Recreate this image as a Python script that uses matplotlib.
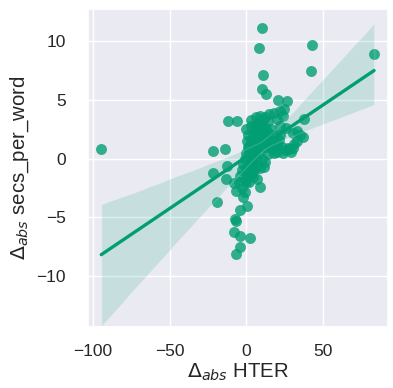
import numpy as np
import pandas as pd
import matplotlib
matplotlib.use("Agg")
import matplotlib.pyplot as plt
import seaborn as sns

# Delta_abs HTER (x) and Delta_abs secs_per_word (y)
hter = [
    -94.4, 83.0, 42.7, 42.3, 10.1, 7.9, 10.5, 10.1, 12.7, 20.8, 26.2, 24.5,
    37.3, 32.6, 36.5, -11.8, -6.0, -22.0, -14.2, -22.0, -12.4, -13.1, -18.9,
    -8.2, -7.1, -2.1, 0.4, -3.9, -7.7, -6.6, -8.2, -4.3, 2.6, -3.9, -6.6,
    6.9, 9.0, 11.6, 3.7,
    3, 6, 9, 12, 15, 18, 22, 14, 20, 24,
    0, 1, 0.5, 1, 0, -1, -2, -3, -4, -5, -3, -1, 0,
    3, 5, 4, 6, 3, 5, 7, 2, 4, 6, 3, 1, 2, 8, 10, 9, 11, 8, 12, 13, 15, 14,
    17, 19, 16, 18, 21, 23, 25, 27, 29, 31, 33, 35, 30, 26, 22, 10, 12, 7,
    5, 9, 4, 2,
    18, 20, 24, 28, 30,
    2, 4, 6, 8, 10, 7, 9, 11, 13, 5, 3, 1, 6, 8, 12, 16, 20, 14, 18, 22,
    -1, 0, 2, 4, 11,
]
secs = [
    0.85, 8.86, 9.65, 7.45, 11.1, 9.4, 7.1, 5.9, 5.5, 5.0, 4.9, 4.2,
    3.4, 2.35, 1.8, 3.2, 3.2, 0.65, 0.85, -1.2, -0.6, -1.75, -3.7,
    -2.1, -2.75, -3.25, -4.0, -4.4, -5.15, -5.3, -6.2, -6.55, -6.7, -7.5, -8.1,
    -1.75, -2.4, -0.7, -1.2,
    3.3, 3.5, 3.6, 3.5, 3.8, 3.9, 4.0, 3.2, 3.4, 3.6,
    2.5, 2.0, 1.5, 1.0, 0.5, 0.0, -0.5, -1.0, -1.5, -2.0, -2.5, -2.8, -2.0,
    2.8, 2.5, 2.0, 1.8, 1.5, 1.2, 1.0, 0.5, 0.3, 0.0, -0.3, -0.8, -1.2, 0.5,
    1.2, 2.2, 2.8, 3.0, 2.0, 1.5, 1.0, 0.4,
    0.8, 1.2, 2.5, 2.0, 1.6, 1.0, 0.7, 0.9, 0.6, 1.2, 1.5, 2.0, 2.2, 2.6, 2.8,
    0.0, -0.3, -0.6, -1.0, -0.8, -1.6, -2.0,
    0.5, 0.6, 0.5, 0.8, 0.9,
    1.0, 1.6, 2.3, 2.6, 2.4, 0.8, 1.6, 1.9, 2.5, 0.6, 0.0, -1.5, 2.9, 1.4,
    1.0, 1.6, 1.2, 2.2, 1.4, 2.0,
    -1.8, -1.0, -0.6, -0.4, 3.3,
]

df = pd.DataFrame({"hter": hter, "secs": secs})

sns.set_theme(style="darkgrid")
plt.rcParams["font.family"] = ["Liberation Sans", "DejaVu Sans"]

fig = plt.figure(figsize=(3.93, 3.88), dpi=100)
ax = fig.add_axes([0.224, 0.157, 0.763, 0.820])

sns.regplot(data=df, x="hter", y="secs", ax=ax, color="#029E73", seed=3,
            scatter_kws={"s": 62, "alpha": 0.8, "linewidths": 0},
            line_kws={"linewidth": 2.4})

ax.set_xlim(-103, 92)
ax.set_ylim(-14.3, 12.7)
ax.set_xticks([-100, -50, 0, 50])
ax.set_yticks([-10, -5, 0, 5, 10])
ax.tick_params(axis="y", labelsize=12.5, pad=10)
ax.tick_params(axis="x", labelsize=12.5, pad=6)
ax.set_xlabel(r"$\Delta_{abs}$ HTER", fontsize=14.7, labelpad=2)
ax.set_ylabel(r"$\Delta_{abs}$ secs_per_word", fontsize=14.7, labelpad=4)

fig.savefig("out.png", dpi=100)
